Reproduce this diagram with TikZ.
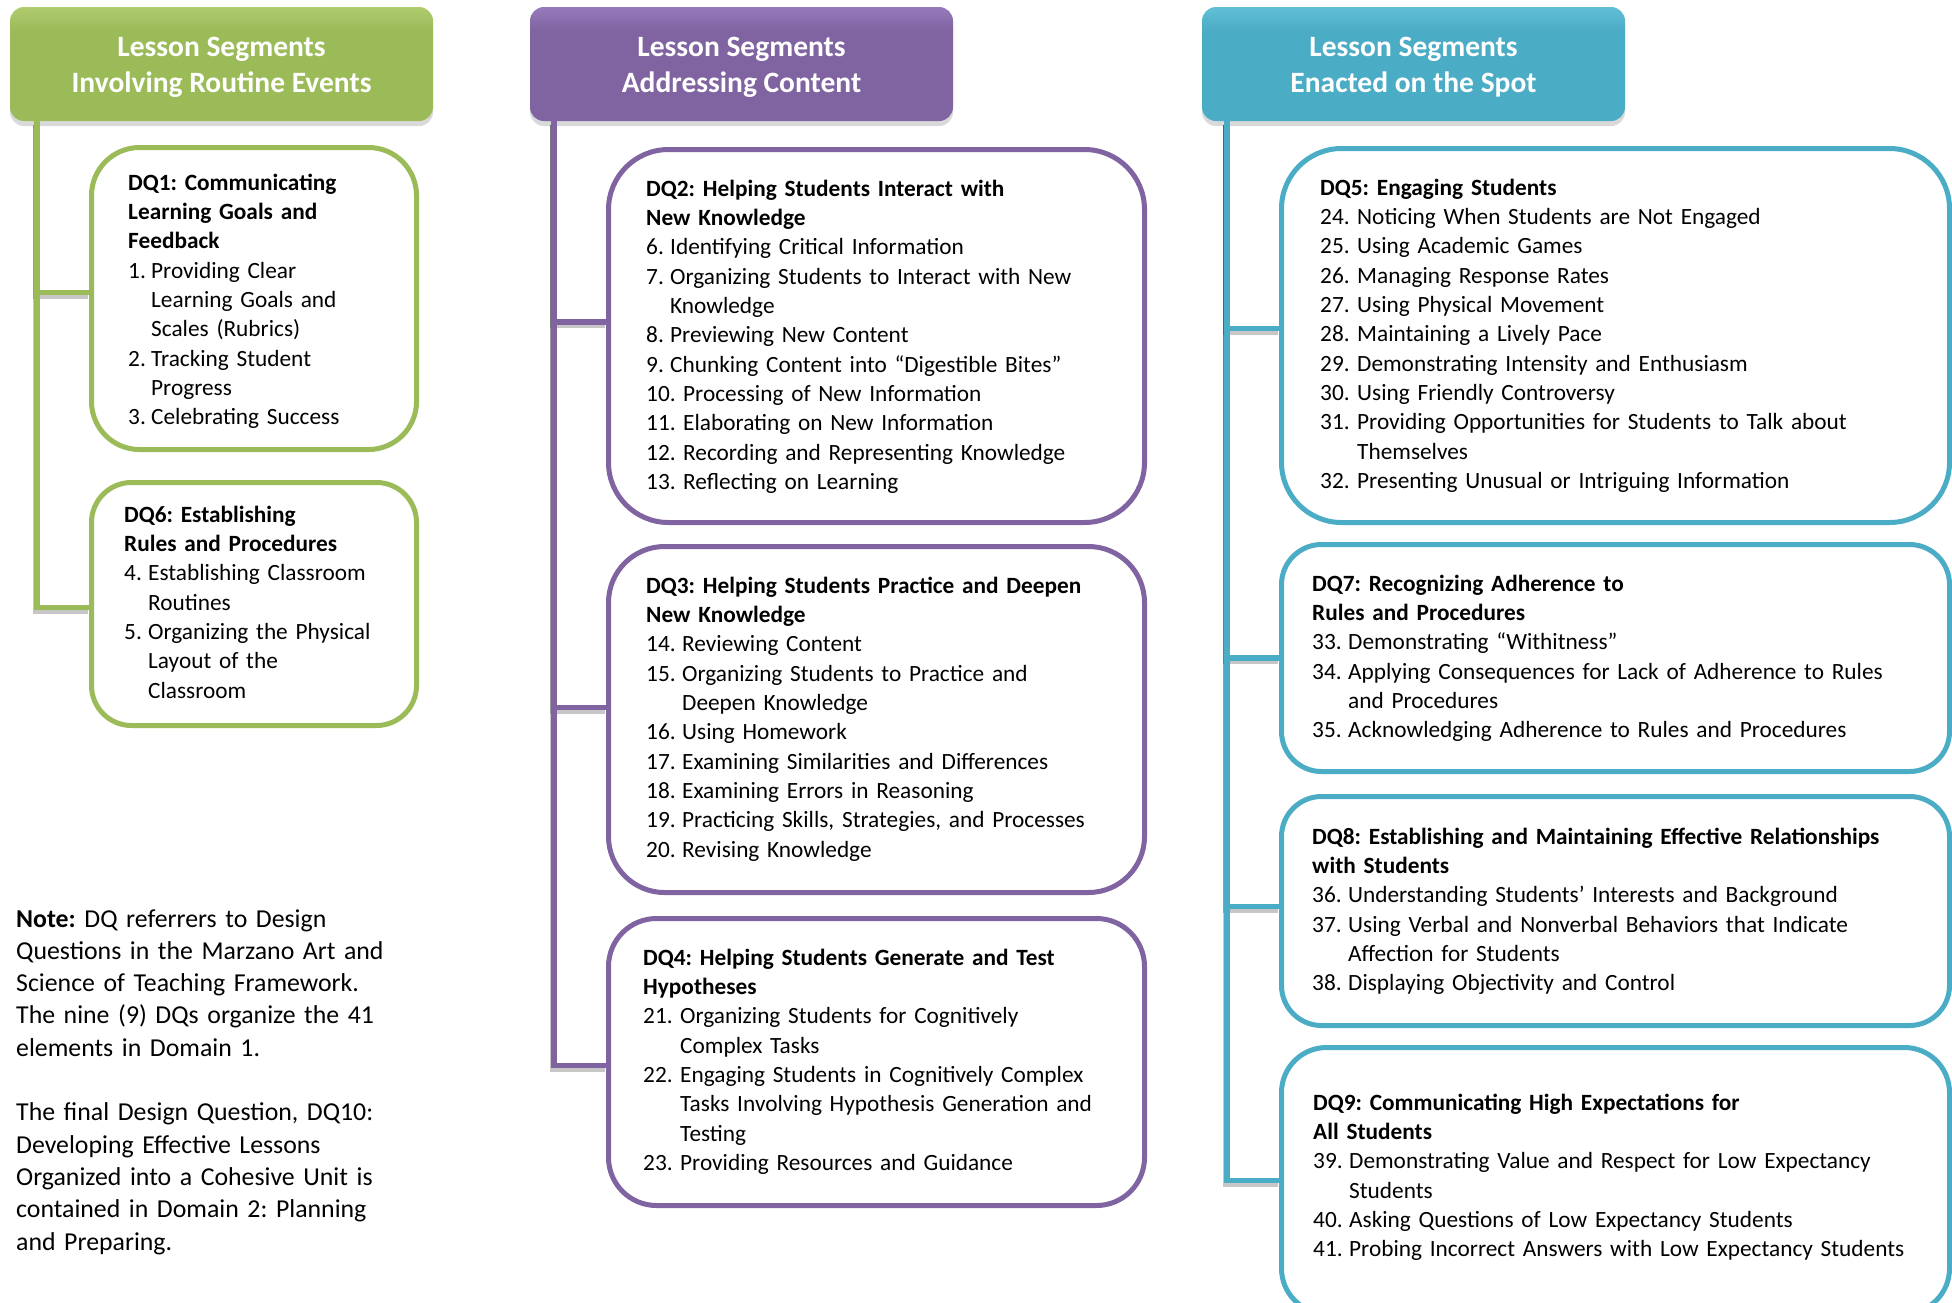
\documentclass[tikz,border=0pt]{standalone}
\usepackage{fontspec}
\setmainfont{Carlito}
\usetikzlibrary{shadows}
\definecolor{gmain}{RGB}{155,187,89}
\definecolor{glight}{RGB}{225,248,165}
\definecolor{gdark}{RGB}{135,165,75}
\definecolor{pmain}{RGB}{128,100,162}
\definecolor{plight}{RGB}{210,175,250}
\definecolor{pdark}{RGB}{110,85,140}
\definecolor{bmain}{RGB}{75,172,198}
\definecolor{blight}{RGB}{155,242,252}
\definecolor{bdark}{RGB}{60,150,175}
\pgfdeclareverticalshading{shG}{100bp}{color(0bp)=(gdark); color(10bp)=(gmain); color(65bp)=(gmain); color(100bp)=(glight)}
\pgfdeclareverticalshading{shP}{100bp}{color(0bp)=(pdark); color(10bp)=(pmain); color(65bp)=(pmain); color(100bp)=(plight)}
\pgfdeclareverticalshading{shB}{100bp}{color(0bp)=(bdark); color(10bp)=(bmain); color(65bp)=(bmain); color(100bp)=(blight)}
\newcommand\dqitem[3]{\makebox[#1][l]{#2}#3}
\newcommand\dqcont[1]{\hspace*{#1}}
\frenchspacing
\begin{document}
\frenchspacing
\begin{tikzpicture}[x=1pt,y=-1pt,
  hdr/.style={rounded corners=14pt, minimum width=423pt, minimum height=114pt,
    text=white, align=center, inner sep=0pt,
    font=\fontsize{29.5}{36}\selectfont\bfseries\frenchspacing,
    drop shadow={opacity=0.3, shadow xshift=0pt, shadow yshift=-5pt}},
  dqbox/.style={draw=#1, line width=5pt, fill=white, anchor=north west, inner sep=0pt},
  txt/.style={anchor=base west, inner sep=0pt, text width=640pt, align=left,
    font=\fontsize{23.3}{29.35}\selectfont\frenchspacing},
  notetxt/.style={anchor=base west, inner sep=0pt, text width=400pt, align=left,
    font=\fontsize{25.8}{32.3}\selectfont\frenchspacing},
  conn/.style={draw=#1, line width=5.5pt},
  cshadow/.style={draw=black, opacity=0.22, line width=5.5pt,
    transform canvas={xshift=-1.5pt, yshift=-3.5pt}}]
\clip (0,0) rectangle (1952,1302);
\useasboundingbox (0,0) rectangle (1952,1302);

% headers
\node[hdr, shading=shG] (hG) at (221.5,64) {\rule{0pt}{26pt}Lesson Segments\\Involving Routine Events};
\node[hdr, shading=shP] (hP) at (741.5,64) {\rule{0pt}{26pt}Lesson Segments\\Addressing Content};
\node[hdr, shading=shB] (hB) at (1413.5,64) {\rule{0pt}{26pt}Lesson Segments\\Enacted on the Spot};

% boxes
\node[dqbox=gmain, rounded corners=48pt, minimum width=325pt, minimum height=302pt] (dq1) at (89,145) {};
\node[dqbox=gmain, rounded corners=40pt, minimum width=325pt, minimum height=243pt] (dq6) at (89,480) {};
\node[dqbox=pmain, rounded corners=60pt, minimum width=536pt, minimum height=373pt] (dq2) at (606,147) {};
\node[dqbox=pmain, rounded corners=56pt, minimum width=536pt, minimum height=346pt] (dq3) at (606,544) {};
\node[dqbox=pmain, rounded corners=48pt, minimum width=536pt, minimum height=287pt] (dq4) at (606,916) {};
\node[dqbox=bmain, rounded corners=60pt, minimum width=668pt, minimum height=374pt] (dq5) at (1279,146) {};
\node[dqbox=bmain, rounded corners=40pt, minimum width=668pt, minimum height=227pt] (dq7) at (1279,542) {};
\node[dqbox=bmain, rounded corners=40pt, minimum width=668pt, minimum height=229pt] (dq8) at (1279,794) {};
\node[dqbox=bmain, rounded corners=45pt, minimum width=668pt, minimum height=266pt] (dq9) at (1279,1045) {};

% connector shadows
\draw[cshadow] ([xshift=27pt]hG.south west) |- ([yshift=6pt]dq1.west);
\draw[cshadow] ([xshift=27pt]hG.south west) |- ([yshift=-3.5pt]dq6.west);
\draw[cshadow] ([xshift=24pt]hP.south west) |- ([yshift=14pt]dq2.west);
\draw[cshadow] ([xshift=24pt]hP.south west) |- ([yshift=12pt]dq3.west);
\draw[cshadow] ([xshift=24pt]hP.south west) |- ([yshift=-3.5pt]dq4.west);
\draw[cshadow] ([xshift=25pt]hB.south west) |- ([yshift=7pt]dq5.west);
\draw[cshadow] ([xshift=25pt]hB.south west) |- (dq7.west);
\draw[cshadow] ([xshift=25pt]hB.south west) |- ([yshift=4.5pt]dq8.west);
\draw[cshadow] ([xshift=25pt]hB.south west) |- (dq9.west);

% connectors
\draw[conn=gmain] ([xshift=27pt]hG.south west) |- ([yshift=6pt]dq1.west);
\draw[conn=gmain] ([xshift=27pt]hG.south west) |- ([yshift=-3.5pt]dq6.west);
\draw[conn=pmain] ([xshift=24pt]hP.south west) |- ([yshift=14pt]dq2.west);
\draw[conn=pmain] ([xshift=24pt]hP.south west) |- ([yshift=12pt]dq3.west);
\draw[conn=pmain] ([xshift=24pt]hP.south west) |- ([yshift=-3.5pt]dq4.west);
\draw[conn=bmain] ([xshift=25pt]hB.south west) |- ([yshift=7pt]dq5.west);
\draw[conn=bmain] ([xshift=25pt]hB.south west) |- (dq7.west);
\draw[conn=bmain] ([xshift=25pt]hB.south west) |- ([yshift=4.5pt]dq8.west);
\draw[conn=bmain] ([xshift=25pt]hB.south west) |- (dq9.west);

% texts
\node[txt] (t1) at (128,190) {\textbf{DQ1: Communicating}\\
\textbf{Learning Goals and}\\
\textbf{Feedback}\\
\dqitem{23pt}{1.}{Providing Clear}\\
\dqcont{23pt}Learning Goals and\\
\dqcont{23pt}Scales (Rubrics)\\
\dqitem{23pt}{2.}{Tracking Student}\\
\dqcont{23pt}Progress\\
\dqitem{23pt}{3.}{Celebrating Success}};

\node[txt] (t6) at (124,522) {\textbf{DQ6: Establishing}\\
\textbf{Rules and Procedures}\\
\dqitem{24pt}{4.}{Establishing Classroom}\\
\dqcont{24pt}Routines\\
\dqitem{24pt}{5.}{Organizing the Physical}\\
\dqcont{24pt}Layout of the\\
\dqcont{24pt}Classroom};

\node[txt] (t2) at (646,196) {\textbf{DQ2: Helping Students Interact with}\\
\textbf{New Knowledge}\\
\dqitem{24pt}{6.}{Identifying Critical Information}\\
\dqitem{24pt}{7.}{Organizing Students to Interact with New}\\
\dqcont{24pt}Knowledge\\
\dqitem{24pt}{8.}{Previewing New Content}\\
\dqitem{24pt}{9.}{Chunking Content into “Digestible Bites”}\\
\dqitem{37pt}{10.}{Processing of New Information}\\
\dqitem{37pt}{11.}{Elaborating on New Information}\\
\dqitem{37pt}{12.}{Recording and Representing Knowledge}\\
\dqitem{37pt}{13.}{Reflecting on Learning}};

\node[txt] (t3) at (646,593) {\textbf{DQ3: Helping Students Practice and Deepen}\\
\textbf{New Knowledge}\\
\dqitem{36pt}{14.}{Reviewing Content}\\
\dqitem{36pt}{15.}{Organizing Students to Practice and}\\
\dqcont{36pt}Deepen Knowledge\\
\dqitem{36pt}{16.}{Using Homework}\\
\dqitem{36pt}{17.}{Examining Similarities and Differences}\\
\dqitem{36pt}{18.}{Examining Errors in Reasoning}\\
\dqitem{36pt}{19.}{Practicing Skills, Strategies, and Processes}\\
\dqitem{36pt}{20.}{Revising Knowledge}};

\node[txt] (t4) at (643,965) {\textbf{DQ4: Helping Students Generate and Test}\\
\textbf{Hypotheses}\\
\dqitem{37pt}{21.}{Organizing Students for Cognitively}\\
\dqcont{37pt}Complex Tasks\\
\dqitem{37pt}{22.}{Engaging Students in Cognitively Complex}\\
\dqcont{37pt}Tasks Involving Hypothesis Generation and\\
\dqcont{37pt}Testing\\
\dqitem{37pt}{23.}{Providing Resources and Guidance}};

\node[txt] (t5) at (1320,195) {\textbf{DQ5: Engaging Students}\\
\dqitem{37pt}{24.}{Noticing When Students are Not Engaged}\\
\dqitem{37pt}{25.}{Using Academic Games}\\
\dqitem{37pt}{26.}{Managing Response Rates}\\
\dqitem{37pt}{27.}{Using Physical Movement}\\
\dqitem{37pt}{28.}{Maintaining a Lively Pace}\\
\dqitem{37pt}{29.}{Demonstrating Intensity and Enthusiasm}\\
\dqitem{37pt}{30.}{Using Friendly Controversy}\\
\dqitem{37pt}{31.}{Providing Opportunities for Students to Talk about}\\
\dqcont{37pt}Themselves\\
\dqitem{37pt}{32.}{Presenting Unusual or Intriguing Information}};

\node[txt] (t7) at (1312,591) {\textbf{DQ7: Recognizing Adherence to}\\
\textbf{Rules and Procedures}\\
\dqitem{36pt}{33.}{Demonstrating “Withitness”}\\
\dqitem{36pt}{34.}{Applying Consequences for Lack of Adherence to Rules}\\
\dqcont{36pt}and Procedures\\
\dqitem{36pt}{35.}{Acknowledging Adherence to Rules and Procedures}};

\node[txt] (t8) at (1312,844) {\textbf{DQ8: Establishing and Maintaining Effective Relationships}\\
\textbf{with Students}\\
\dqitem{36pt}{36.}{Understanding Students’ Interests and Background}\\
\dqitem{36pt}{37.}{Using Verbal and Nonverbal Behaviors that Indicate}\\
\dqcont{36pt}Affection for Students\\
\dqitem{36pt}{38.}{Displaying Objectivity and Control}};

\node[txt] (t9) at (1313,1110) {\textbf{DQ9: Communicating High Expectations for}\\
\textbf{All Students}\\
\dqitem{36pt}{39.}{Demonstrating Value and Respect for Low Expectancy}\\
\dqcont{36pt}Students\\
\dqitem{36pt}{40.}{Asking Questions of Low Expectancy Students}\\
\dqitem{36pt}{41.}{Probing Incorrect Answers with Low Expectancy Students}};

\node[notetxt] (note) at (16,927) {\textbf{Note:} DQ referrers to Design\\
Questions in the Marzano Art and\\
Science of Teaching Framework.\\
The nine (9) DQs organize the 41\\
elements in Domain 1.\\[32.3pt]
The final Design Question, DQ10:\\
Developing Effective Lessons\\
Organized into a Cohesive Unit is\\
contained in Domain 2: Planning\\
and Preparing.};
\end{tikzpicture}
\end{document}
